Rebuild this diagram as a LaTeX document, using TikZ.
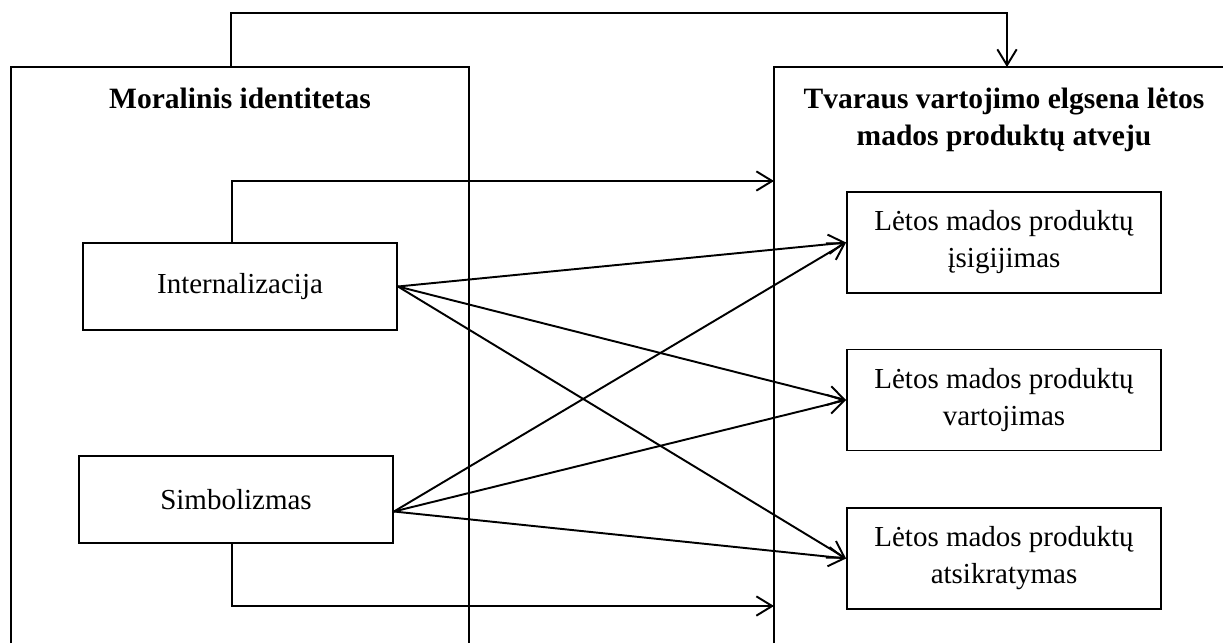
\documentclass[tikz,border=0pt]{standalone}
\usepackage{fontspec}
\setmainfont{Liberation Serif}
\usetikzlibrary{arrows.meta}
\begin{document}
\begin{tikzpicture}[x=0.02cm,y=-0.02cm,
  line width=1.1pt,
  every node/.style={font=\fontsize{16.5}{21}\selectfont},
  itembox/.style={draw,minimum width=6.28cm,minimum height=1.74cm,align=center,inner sep=0pt},
  outbox/.style={draw,minimum width=6.28cm,minimum height=2.02cm,align=center,inner sep=0pt},
  title/.style={font=\fontsize{16.8}{21}\selectfont\bfseries,align=center},
  link/.style={-{Straight Barb[length=9pt,width=11pt]}}]
\useasboundingbox (0,0) rectangle (1223,643);

% open frames of the two groups
\coordinate (Lbl) at (11,643);
\coordinate (Ltl) at (11,67);
\coordinate (Ltr) at (469,67);
\coordinate (Lbr) at (469,643);
\draw (Lbl) -- (Ltl) -- (Ltr) -- (Lbr);
\coordinate (Rbl) at (774,643);
\coordinate (Rtl) at (774,67);
\coordinate (Rtr) at (1223,67);
\draw (Rbl) -- (Rtl) -- (Rtr);

% group titles
\node[title] (mi) at (240,98) {Moralinis identitetas};
\node[title] (tv) at (1004,120) {Tvaraus vartojimo elgsena lėtos\\mados produktų atveju};

% dimensions
\node[itembox] (int) at (240,286.5) {Internalizacija};
\node[itembox] (sim) at (236,499.5) {Simbolizmas};

% outcomes
\node[outbox] (o1) at (1004,242.5) {Lėtos mados produktų\\įsigijimas};
\node[outbox] (o2) at (1004,400) {Lėtos mados produktų\\vartojimas};
\node[outbox] (o3) at (1004,558.5) {Lėtos mados produktų\\atsikratymas};

% group-to-group link over the top
\coordinate (loopL) at (231,67);
\coordinate (loopR) at (1007,67);
\draw[link] (loopL) -- ++(0,-54) -| (loopR);

% dimension-to-group links
\coordinate (col) at (232,0);
\coordinate (inR) at (774,181);
\coordinate (inRb) at (774,606);
\draw[link] (int.north -| col) |- (inR);
\draw[link] (sim.south -| col) |- (inRb);

% dimension-to-outcome links
\coordinate (simout) at ([yshift=-0.24cm]sim.east);
\draw[link] (int.east) -- (o1.west);
\draw[link] (int.east) -- (o2.west);
\draw[link] (int.east) -- (o3.west);
\draw[link] (simout) -- (o1.west);
\draw[link] (simout) -- (o2.west);
\draw[link] (simout) -- (o3.west);
\end{tikzpicture}
\end{document}
